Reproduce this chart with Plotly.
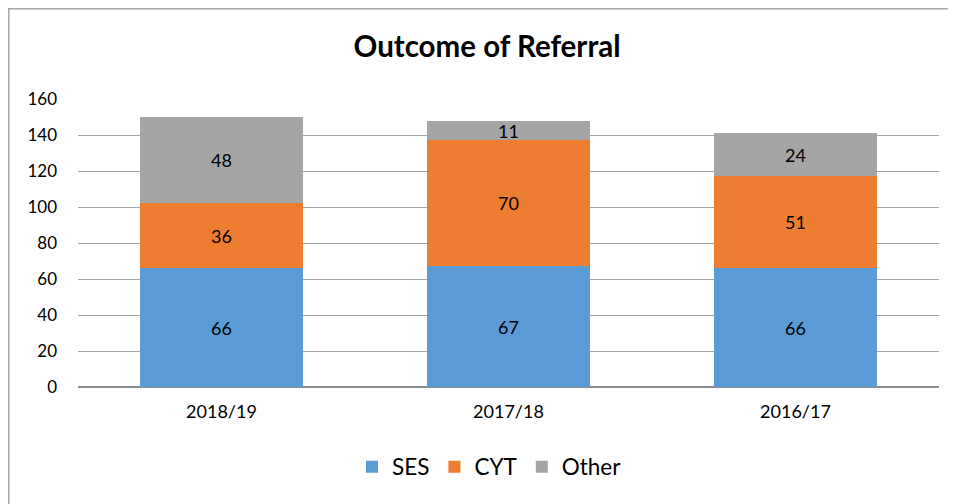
import plotly.graph_objects as go

categories = ["2018/19", "2017/18", "2016/17"]
ses = [66, 67, 66]
cyt = [36, 70, 51]
other = [48, 11, 24]
y_ticks = [0, 20, 40, 60, 80, 100, 120, 140, 160]

FONT = "Lato, 'Open Sans', sans-serif"
OFF = 8  # page body margin in the browser
W, H = 956 - OFF, 504 - OFF
L, R, T, B = 78 - OFF, 17, 99 - OFF, 117

fig = go.Figure()
for name, vals, col in [("SES", ses, "#5B9BD5"), ("CYT", cyt, "#ED7D31"), ("Other", other, "#A5A5A5")]:
    fig.add_trace(go.Bar(
        name=name, x=categories, y=vals,
        marker=dict(color=col, line=dict(width=0)),
        text=vals, textposition="inside", insidetextanchor="middle",
        constraintext="none", textangle=0,
        textfont=dict(family=FONT, size=18, color="#000000"),
        hoverinfo="skip",
    ))

pw, ph = W - L - R, H - T - B
fig.add_shape(type="rect", xref="paper", yref="paper",
              x0=(0.75 - L) / pw, x1=(W + 10 - L) / pw,
              y0=(H - B - (H + 10)) / ph, y1=(H - B - 0.75) / ph,
              line=dict(color="#a6a6a6", width=1.5), fillcolor="rgba(0,0,0,0)", layer="below")

fig.update_layout(
    width=W, height=H,
    margin=dict(l=L, r=R, t=T, b=B),
    barmode="stack", bargap=0.43,
    paper_bgcolor="white", plot_bgcolor="white",
    font=dict(family=FONT, size=17, color="#000000"),
    title=dict(text="<b>Outcome of Referral</b>", x=(487 - OFF) / W, xanchor="center",
               y=1 - (47 - OFF) / H, yanchor="middle",
               font=dict(family=FONT, size=29.5, color="#000000")),
    legend=dict(orientation="h", x=(352 - OFF) / W, xanchor="left", xref="container",
                y=1 - (467 - OFF) / H, yref="container", yanchor="middle",
                font=dict(family=FONT, size=22.5, color="#000000"),
                traceorder="normal", itemwidth=30),
    xaxis=dict(showgrid=False, showline=False, ticks="", ticklabelstandoff=12,
               tickfont=dict(size=18)),
    yaxis=dict(range=[0, 160], tickvals=y_ticks, showgrid=True, gridcolor="#a6a6a6",
               gridwidth=1, zeroline=True, zerolinecolor="#8c8c8c", zerolinewidth=1.5,
               showline=False, ticks="", ticklabelstandoff=20, tickfont=dict(size=17)),
)

fig.write_html("out.html")
